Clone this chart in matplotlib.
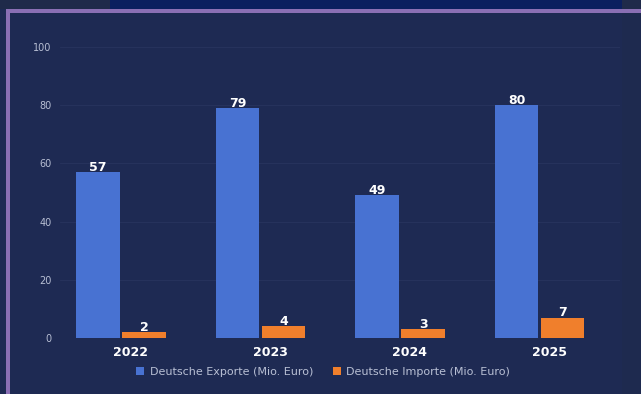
import matplotlib
matplotlib.use("Agg")
import matplotlib.pyplot as plt
from matplotlib.patches import Rectangle
import numpy as np

# ---------- data ---------- #
years = ["2022", "2023", "2024", "2025"]
exporte = [57, 79, 49, 80]
importe = [2, 4, 3, 7]
y_ticks = [0, 20, 40, 60, 80, 100]

bg = "#1e2a53"
blue = "#4872d2"
orange = "#f07f2c"
grey = "#b8bfd4"

W, H = 641, 394
fig = plt.figure(figsize=(W / 100, H / 100), dpi=100)
fig.patch.set_facecolor(bg)

# ---------- frame decoration ---------- #
def px_rect(x0, y0, x1, y1, color, z=0, alpha=1.0):
    fig.patches.append(Rectangle((x0 / W, 1 - y1 / H), (x1 - x0) / W, (y1 - y0) / H,
                                 transform=fig.transFigure, color=color, zorder=z,
                                 alpha=alpha, lw=0))

px_rect(0, 0, W, 9, "#1f2a4a")
px_rect(110, 0, 622, 9, "#0b1f5f")
px_rect(6, 9, W, 13, "#8a6fb4")
px_rect(6, 9, 10, H, "#8a6fb4")
px_rect(622, 13, W, H, "#1e2a4f")

# ---------- axes ---------- #
left, right = 60, 620
ax = fig.add_axes([left / W, (H - 338) / H, (right - left) / W, (338 - 47) / H])
ax.set_facecolor("none")

x = np.arange(len(years))
w = 0.31
ax.bar(x - 0.165, exporte, w, color=blue, label="Deutsche Exporte (Mio. Euro)", zorder=3)
ax.bar(x + 0.165, importe, w, color=orange, label="Deutsche Importe (Mio. Euro)", zorder=3)

for xi, v in zip(x, exporte):
    ax.text(xi - 0.165, v - 0.5, str(v), ha="center", va="bottom", color="white",
            fontsize=9, fontweight="bold", zorder=4)
for xi, v in zip(x, importe):
    ax.text(xi + 0.165, v - 0.5, str(v), ha="center", va="bottom", color="white",
            fontsize=9, fontweight="bold", zorder=4)

# 139.5 px per group, first group centre at 121 px
ax.set_xlim((left - 121) / 139.5, (right - 121) / 139.5)
ax.set_ylim(0, 100)
ax.set_yticks(y_ticks)
ax.set_yticklabels([str(t) for t in y_ticks], color=grey, fontsize=7)
ax.set_xticks(x + 0.07)
ax.set_xticklabels(years, color="white", fontsize=9, fontweight="bold")
ax.tick_params(axis="both", length=0)
ax.tick_params(axis="y", pad=6)
ax.tick_params(axis="x", pad=6)
ax.grid(axis="y", color="#28345e", lw=0.6, zorder=0)
for s in ax.spines.values():
    s.set_visible(False)

leg = ax.legend(loc="upper center", bbox_to_anchor=(0.47, -0.065), ncol=2, frameon=False,
                fontsize=8, handlelength=0.7, handleheight=0.7, handletextpad=0.5,
                columnspacing=1.8)
for t in leg.get_texts():
    t.set_color(grey)

fig.savefig("out.png", dpi=100, facecolor=bg)
